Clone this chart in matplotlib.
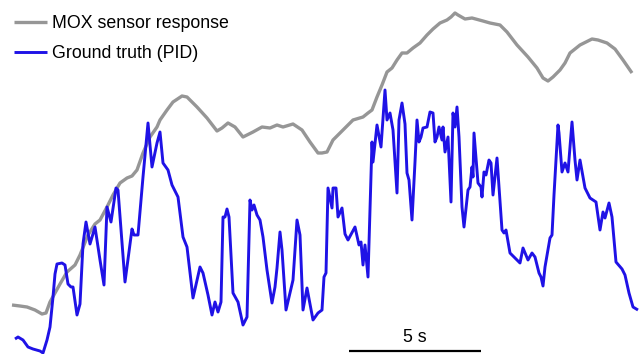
import matplotlib
matplotlib.use("Agg")
import matplotlib.pyplot as plt
import numpy as np

plt.rcParams['font.family'] = ['Liberation Sans', 'DejaVu Sans']

FS = 26.4  # samples per second of the time base below

# MOX sensor response (sample index, arbitrary units)
mox_idx = [12, 20, 27, 35, 42, 46, 50, 55, 60, 67, 75, 80, 88, 95, 100, 107, 113, 120,
           127, 132, 137, 143, 150, 157, 160, 167, 173, 182, 187, 197, 207, 217, 222,
           228, 235, 243, 253, 262, 270, 277, 283, 293, 302, 310, 318, 322, 327, 333,
           343, 353, 363, 368, 372, 377, 382, 387, 392, 397, 402, 407, 413, 420, 427,
           433, 440, 447, 451, 455, 458, 465, 472, 483, 490, 500, 507, 517, 528, 537,
           543, 548, 553, 560, 565, 570, 580, 592, 598, 607, 615, 623, 632]
mox = [49, 48, 47, 44, 40, 41, 52, 61, 70, 82, 89, 99, 119, 130, 134, 147, 159, 171,
       176, 178, 184, 201, 217, 227, 234, 244, 252, 258, 257, 247, 236, 223, 226,
       231, 227, 217, 222, 227, 226, 229, 227, 230, 224, 212, 201, 201, 202, 214,
       224, 234, 237, 241, 244, 257, 269, 282, 286, 294, 301, 301, 306, 311, 319,
       325, 331, 334, 337, 341, 339, 335, 336, 333, 331, 329, 322, 309, 297, 286,
       276, 273, 277, 284, 291, 301, 309, 315, 314, 311, 305, 294, 281]

# ground truth PID signal (sample index, arbitrary units)
pid_idx = [15, 18, 23, 28, 33, 40, 43, 47, 50, 53, 55, 57, 62, 65, 68, 71, 73, 77, 80,
           83, 86, 90, 95, 100, 104, 107, 111, 116, 118, 125, 132, 134, 138, 143, 148,
           152, 157, 160, 163, 168, 172, 178, 183, 187, 193, 200, 203, 208, 212, 215,
           218, 221, 223, 225, 227, 229, 233, 238, 243, 247, 250, 252, 254, 257, 260,
           263, 267, 272, 275, 277, 280, 282, 286, 290, 293, 297, 300, 303, 307, 313,
           318, 322, 324, 326, 328, 332, 333, 336, 338, 342, 345, 348, 355, 359, 361,
           363, 365, 368, 372, 373, 377, 381, 385, 387, 390, 393, 397, 399, 402, 405,
           407, 409, 412, 415, 417, 419, 421, 423, 427, 430, 433, 435, 437, 439, 442,
           443, 445, 448, 451, 453, 455, 457, 459, 462, 464, 468, 470, 472, 473, 474,
           478, 481, 482, 484, 486, 489, 491, 493, 497, 502, 504, 506, 510, 517, 520,
           523, 528, 532, 535, 539, 541, 543, 545, 550, 552, 554, 558, 559, 562, 565,
           568, 572, 575, 577, 580, 585, 590, 596, 600, 603, 605, 609, 612, 616, 622,
           625, 629, 633, 638]
pid = [15, 17, 14, 7, 5, 3, 1, 14, 27, 57, 80, 90, 91, 89, 70, 67, 67, 39, 50,
       110, 132, 110, 127, 94, 69, 147, 132, 166, 164, 72, 125, 119, 119, 177, 231,
       187, 211, 222, 191, 184, 169, 157, 117, 107, 56, 87, 81, 59, 39, 52,
       42, 52, 137, 137, 145, 137, 61, 52, 29, 37, 154, 144, 149, 139, 134,
       117, 84, 51, 67, 86, 122, 104, 44, 61, 74, 134, 119, 44, 66, 34,
       41, 44, 77, 81, 166, 146, 166, 166, 137, 146, 120, 114, 127, 109, 112,
       89, 109, 77, 212, 192, 229, 207, 264, 234, 241, 224, 161, 234, 251, 230,
       181, 174, 134, 192, 234, 212, 217, 226, 227, 242, 241, 212, 217, 227, 214,
       227, 202, 217, 152, 241, 227, 247, 217, 147, 127, 164, 167, 187, 177, 221,
       171, 167, 157, 182, 179, 194, 191, 159, 196, 124, 121, 124, 101, 94, 91,
       106, 94, 101, 97, 81, 77, 68, 87, 116, 119, 159, 229, 221, 182, 191,
       182, 232, 194, 174, 194, 166, 156, 152, 124, 142, 136, 151, 137, 92, 85,
       79, 61, 47, 44]

bar_start = 13.22  # s
bar_len = 5        # s

fig = plt.figure(figsize=(6.39, 3.54), dpi=100)
ax = fig.add_axes([0, 0, 1, 1])

ax.plot(np.array(mox_idx) / FS, mox, color='#969696', lw=2.4,
        solid_joinstyle='round', solid_capstyle='butt', label='MOX sensor response')
ax.plot(np.array(pid_idx) / FS, pid, color='#1f12e6', lw=2.1,
        solid_joinstyle='round', solid_capstyle='butt', label='Ground truth (PID)')

# scale bar
ax.plot([bar_start, bar_start + bar_len], [3, 3], color='black', lw=1.6,
        solid_capstyle='butt')
ax.text(bar_start + bar_len / 2, 8, '5 s', ha='center', va='bottom', fontsize=12.8)

ax.set_xlim(0, 639 / FS)
ax.set_ylim(0, 354)
ax.axis('off')

ax.legend(loc='upper left', bbox_to_anchor=(0.0125, 0.975), frameon=False,
          fontsize=12.8, handlelength=1.85, handletextpad=0.3, labelspacing=0.73,
          borderaxespad=0.0, borderpad=0.35)

fig.savefig('out.png', dpi=100)
